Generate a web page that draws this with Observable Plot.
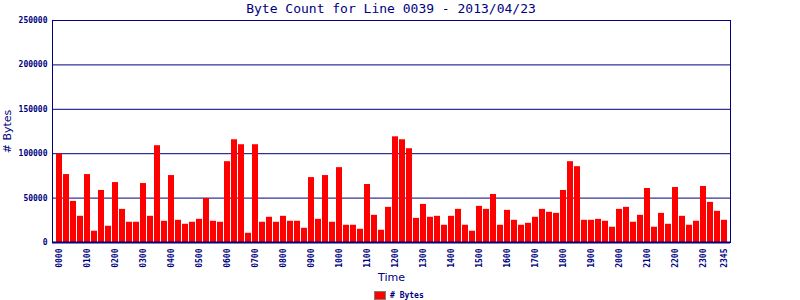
<!DOCTYPE html>
<html><head><meta charset="utf-8">
<script src="https://cdn.jsdelivr.net/npm/d3@7"></script>
<script src="https://cdn.jsdelivr.net/npm/@observablehq/plot@0.6"></script>
<style>
body{margin:0;background:#fff;}
#wrap{position:relative;width:800px;height:300px;font-family:"DejaVu Sans Mono",monospace;color:#000080;overflow:hidden;}
#title{position:absolute;left:52px;width:678px;top:0;text-align:center;font-size:13px;line-height:17px;}
#legend{position:absolute;left:374px;top:291px;font-size:8px;font-weight:bold;line-height:9px;display:flex;align-items:center;}
#legend .sw{width:10px;height:7px;background:#ff0000;border:1px solid #808080;margin-right:4px;}
#chart{position:absolute;left:0;top:0;}
</style></head>
<body>
<div id="wrap">
  <div id="chart"></div>
  <div id="title">Byte Count for Line 0039 - 2013/04/23</div>
  <div id="legend"><span class="sw"></span><span># Bytes</span></div>
</div>
<script>
const times = ["0000","0015","0030","0045","0100","0115","0130","0145","0200","0215","0230","0245",
"0300","0315","0330","0345","0400","0415","0430","0445","0500","0515","0530","0545",
"0600","0615","0630","0645","0700","0715","0730","0745","0800","0815","0830","0845",
"0900","0915","0930","0945","1000","1015","1030","1045","1100","1115","1130","1145",
"1200","1215","1230","1245","1300","1315","1330","1345","1400","1415","1430","1445",
"1500","1515","1530","1545","1600","1615","1630","1645","1700","1715","1730","1745",
"1800","1815","1830","1845","1900","1915","1930","1945","2000","2015","2030","2045",
"2100","2115","2130","2145","2200","2215","2230","2245","2300","2315","2330","2345"];
const bytes = [99600,76500,46300,29500,76500,12700,58600,18300,67500,37300,22800,22800,
66400,29500,109000,23900,75400,25000,20500,22800,26100,49600,23900,22800,
91000,115700,110100,10400,110100,22800,28400,22800,29500,23900,23900,16000,
73100,26100,75400,22800,84300,19400,19400,14900,65300,30600,13800,39600,
119000,115700,105600,27200,42900,28400,29500,19400,29500,37300,19400,12700,
40700,37300,54100,19400,36200,25000,19400,21600,28400,37300,34000,32800,
58600,91000,85400,25000,25000,26100,23900,17200,37300,39600,22800,30600,
60800,17200,32800,20500,61900,29500,19400,23900,63100,45200,35100,25000];
const xTickLabels = ["0000","0100","0200","0300","0400","0500","0600","0700","0800","0900","1000","1100",
"1200","1300","1400","1500","1600","1700","1800","1900","2000","2100","2200","2300","2345"];
const yTicks = [0,50000,100000,150000,200000,250000];

const data = times.map((t,i)=>({time:t, bytes:bytes[i]}));
const navy = "#000080";
const chart = Plot.plot({
  width:800, height:300,
  marginTop:20, marginBottom:58, marginLeft:52, marginRight:70,
  style:{fontFamily:"'DejaVu Sans Mono', monospace", color:navy, background:"transparent", overflow:"visible"},
  x:{domain:times, range:[55.5,727.5], paddingInner:1/7, paddingOuter:1/14, round:false},
  y:{domain:[0,250000]},
  marks:[
    Plot.gridY(yTicks, {stroke:navy, strokeOpacity:1, strokeWidth:1}),
    Plot.barY(data, {x:"time", y:"bytes", fill:"#ff0000"}),
    Plot.frame({stroke:navy, strokeWidth:1}),
    Plot.ruleY([0], {stroke:navy, strokeWidth:2}),
    Plot.axisY(yTicks, {tickSize:0, tickPadding:5, fontSize:8, fontWeight:"bold", tickFormat:d=>String(d),
      label:"# Bytes", labelAnchor:"center", labelOffset:49, labelArrow:"none"}),
    Plot.axisX(xTickLabels, {tickSize:0, tickPadding:6, tickRotate:-90, fontSize:8, fontWeight:"bold",
      label:"Time", labelAnchor:"center", labelOffset:38, labelArrow:"none"})
  ]
});
document.getElementById("chart").appendChild(chart);
chart.querySelectorAll("g[aria-label='y-axis label'] text, g[aria-label='x-axis label'] text").forEach(t=>{
  t.setAttribute("font-size","11"); t.setAttribute("font-weight","normal");
  t.setAttribute("font-family","'DejaVu Sans', sans-serif");
});
</script>
</body></html>
